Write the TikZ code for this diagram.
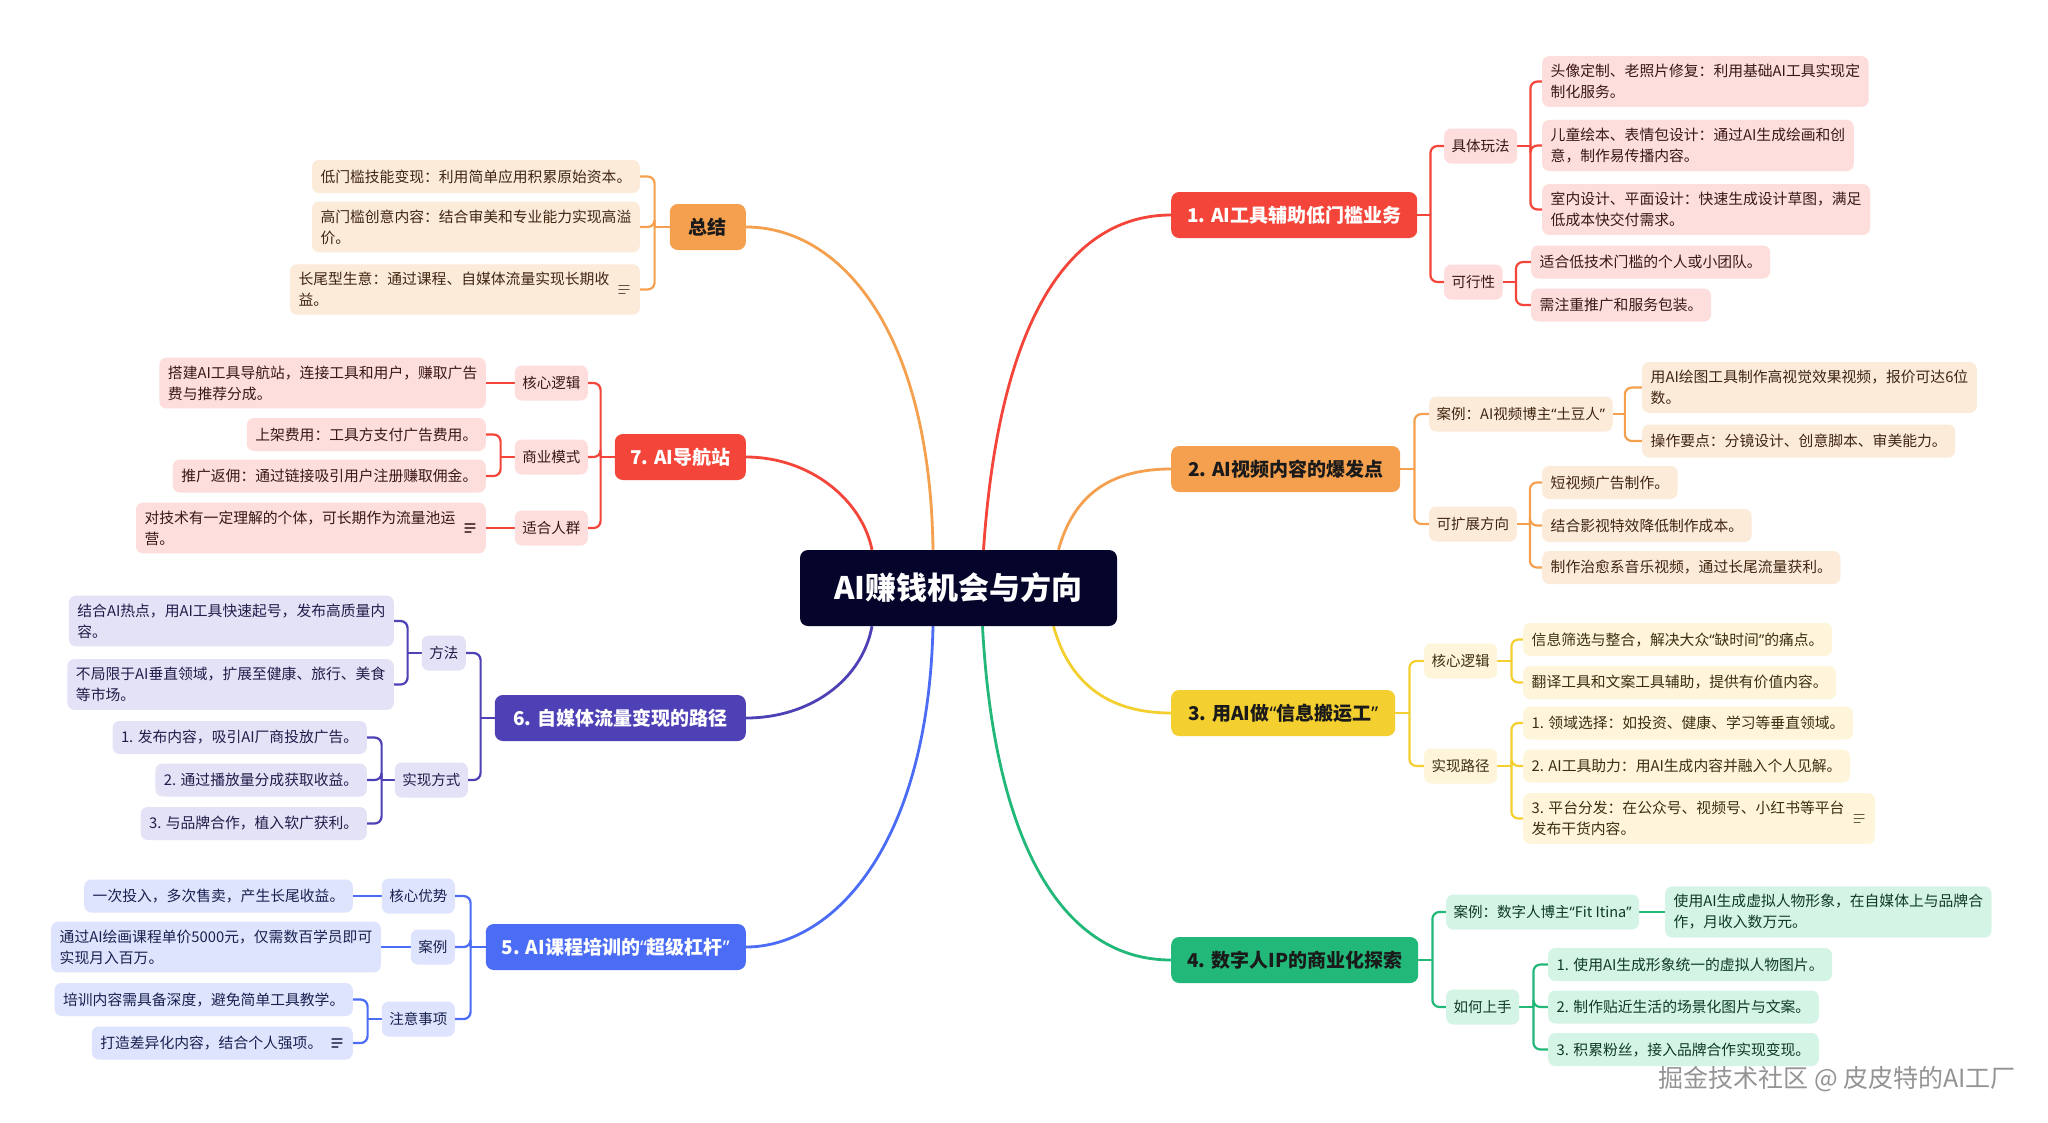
\documentclass[tikz,border=0pt]{standalone}
\usepackage{fontspec}
\setmainfont{Noto Sans CJK SC}
\newfontfamily\mmqf{Noto Sans}
\newcommand\mmlq{{\mmqf “}}
\newcommand\mmrq{{\mmqf ”}}
\newcommand\mmgap{\hbox to 22pt{}}
\usetikzlibrary{backgrounds}
\definecolor{ctrfill}{HTML}{05042A}
\definecolor{rM}{HTML}{F4453A}\definecolor{rL}{HTML}{FDDEDC}\definecolor{rT}{HTML}{3A1714}
\definecolor{oM}{HTML}{F4A04E}\definecolor{oL}{HTML}{FDEBDA}\definecolor{oT}{HTML}{3F2611}
\definecolor{yM}{HTML}{F3CF30}\definecolor{yL}{HTML}{FEF5DA}\definecolor{yT}{HTML}{3A3010}
\definecolor{gM}{HTML}{21B879}\definecolor{gL}{HTML}{D4F4E5}\definecolor{gT}{HTML}{0F3A28}
\definecolor{bM}{HTML}{4B6CF5}\definecolor{bL}{HTML}{DEE4FD}\definecolor{bT}{HTML}{18214F}
\definecolor{pM}{HTML}{4E41B6}\definecolor{pL}{HTML}{E3E2F6}\definecolor{pT}{HTML}{211C4A}
\definecolor{dk}{HTML}{1A1A1A}
\tikzset{
  mainbox/.style={rounded corners=8pt, minimum height=46pt, inner xsep=8pt, inner ysep=6pt,
    font=\fontsize{19}{24}\selectfont\bfseries},
  subbox/.style={rounded corners=7pt, minimum height=35pt, inner xsep=7.5pt, inner ysep=7pt,
    font=\fontsize{14.5}{21}\selectfont},
  leafbox/.style={rounded corners=7pt, minimum height=33pt, inner xsep=8.5pt, inner ysep=8pt,
    align=left, font=\fontsize{14.8}{21}\selectfont},
  rMain/.style={mainbox, fill=rM, text=white},
  oMain/.style={mainbox, fill=oM, text=dk},
  yMain/.style={mainbox, fill=yM, text=dk},
  gMain/.style={mainbox, fill=gM, text=dk},
  bMain/.style={mainbox, fill=bM, text=white},
  pMain/.style={mainbox, fill=pM, text=white},
  rSub/.style={subbox, fill=rL, text=rT}, rLeaf/.style={leafbox, fill=rL, text=rT},
  oSub/.style={subbox, fill=oL, text=oT}, oLeaf/.style={leafbox, fill=oL, text=oT},
  ySub/.style={subbox, fill=yL, text=yT}, yLeaf/.style={leafbox, fill=yL, text=yT},
  gSub/.style={subbox, fill=gL, text=gT}, gLeaf/.style={leafbox, fill=gL, text=gT},
  bSub/.style={subbox, fill=bL, text=bT}, bLeaf/.style={leafbox, fill=bL, text=bT},
  pSub/.style={subbox, fill=pL, text=pT}, pLeaf/.style={leafbox, fill=pL, text=pT},
  bigcurve/.style={line width=2.8pt},
  fork/.style={line width=2.2pt, rounded corners=7pt},
  rC/.style={fork, draw=rM}, oC/.style={fork, draw=oM}, yC/.style={fork, draw=yM},
  gC/.style={fork, draw=gM}, bC/.style={fork, draw=bM}, pC/.style={fork, draw=pM},
  iconline/.style={line width=1.1pt, line cap=round}
}
\newcommand\mmicon[2]{%
  \draw[iconline, #2!80] ([xshift=-21pt,yshift=4pt]#1.east) -- ++(10,0);
  \draw[iconline, #2!80] ([xshift=-21pt,yshift=0pt]#1.east) -- ++(10,0);
  \draw[iconline, #2!80] ([xshift=-21pt,yshift=-4pt]#1.east) -- ++(6,0);
}
\begin{document}
\begin{tikzpicture}[x=1pt,y=-1pt]
\useasboundingbox (0,0) rectangle (2048,1122);

% centre
\node[fill=ctrfill, text=white, rounded corners=8pt, minimum width=317pt, minimum height=76pt,
  font=\fontsize{31}{36}\selectfont\bfseries] (ctr) at (958.5,588) {AI赚钱机会与方向};

% ---------- right side ----------
\node[rMain, anchor=west, minimum width=246pt] (n1) at (1171,215) {1. AI工具辅助低门槛业务};
\node[rSub, anchor=west] (s1a) at (1444,146) {具体玩法};
\node[rSub, anchor=west] (s1b) at (1444,282) {可行性};
\node[rLeaf, anchor=west] (l1a) at (1542,81.5) {头像定制、老照片修复：利用基础AI工具实现定\\制化服务。};
\node[rLeaf, anchor=west] (l1b) at (1542,145.5) {儿童绘本、表情包设计：通过AI生成绘画和创\\意，制作易传播内容。};
\node[rLeaf, anchor=west] (l1c) at (1542,209.5) {室内设计、平面设计：快速生成设计草图，满足\\低成本快交付需求。};
\node[rLeaf, anchor=west] (l1d) at (1531,262) {适合低技术门槛的个人或小团队。};
\node[rLeaf, anchor=west] (l1e) at (1531,305) {需注重推广和服务包装。};

\node[oMain, anchor=west, minimum width=229pt] (n2) at (1171,469) {2. AI视频内容的爆发点};
\node[oSub, anchor=west] (s2a) at (1429,414) {案例：AI视频博主\mmlq 土豆人\mmrq};
\node[oSub, anchor=west] (s2b) at (1429,524) {可扩展方向};
\node[oLeaf, anchor=west] (l2a) at (1642,387.5) {用AI绘图工具制作高视觉效果视频，报价可达6位\\数。};
\node[oLeaf, anchor=west] (l2b) at (1642,441) {操作要点：分镜设计、创意脚本、审美能力。};
\node[oLeaf, anchor=west] (l2c) at (1542,482.5) {短视频广告制作。};
\node[oLeaf, anchor=west] (l2d) at (1542,525.5) {结合影视特效降低制作成本。};
\node[oLeaf, anchor=west] (l2e) at (1542,567.5) {制作治愈系音乐视频，通过长尾流量获利。};

\node[yMain, anchor=west, minimum width=224pt] (n3) at (1171,713) {3. 用AI做\mmlq 信息搬运工\mmrq};
\node[ySub, anchor=west] (s3a) at (1424,661) {核心逻辑};
\node[ySub, anchor=west] (s3b) at (1424,766) {实现路径};
\node[yLeaf, anchor=west] (l3a) at (1523,639.5) {信息筛选与整合，解决大众\mmlq 缺时间\mmrq 的痛点。};
\node[yLeaf, anchor=west] (l3b) at (1523,682.5) {翻译工具和文案工具辅助，提供有价值内容。};
\node[yLeaf, anchor=west] (l3c) at (1523,723) {1. 领域选择：如投资、健康、学习等垂直领域。};
\node[yLeaf, anchor=west] (l3d) at (1523,766) {2. AI工具助力：用AI生成内容并融入个人见解。};
\node[yLeaf, anchor=west] (l3e) at (1523,818.5) {3. 平台分发：在公众号、视频号、小红书等平台\mmgap\\发布干货内容。};

\node[gMain, anchor=west, minimum width=247pt] (n4) at (1171,960) {4. 数字人IP的商业化探索};
\node[gSub, anchor=west] (s4a) at (1446,912) {案例：数字人博主\mmlq Fit Itina\mmrq};
\node[gSub, anchor=west] (s4b) at (1446,1007) {如何上手};
\node[gLeaf, anchor=west] (l4a) at (1665,912) {使用AI生成虚拟人物形象，在自媒体上与品牌合\\作，月收入数万元。};
\node[gLeaf, anchor=west] (l4b) at (1548,964.5) {1. 使用AI生成形象统一的虚拟人物图片。};
\node[gLeaf, anchor=west] (l4c) at (1548,1007) {2. 制作贴近生活的场景化图片与文案。};
\node[gLeaf, anchor=west] (l4d) at (1548,1049.5) {3. 积累粉丝，接入品牌合作实现变现。};

% ---------- left side ----------
\node[oMain, anchor=east, minimum width=76pt] (nz) at (746,227) {总结};
\node[oLeaf, anchor=east] (z1) at (640,176.5) {低门槛技能变现：利用简单应用积累原始资本。};
\node[oLeaf, anchor=east] (z2) at (640,227) {高门槛创意内容：结合审美和专业能力实现高溢\\价。};
\node[oLeaf, anchor=east] (z3) at (640,289.5) {长尾型生意：通过课程、自媒体流量实现长期收\mmgap\\益。};

\node[rMain, anchor=east, minimum width=131pt] (n7) at (746,457) {7. AI导航站};
\node[rSub, anchor=east] (s7a) at (588,383) {核心逻辑};
\node[rSub, anchor=east] (s7b) at (588,457) {商业模式};
\node[rSub, anchor=east] (s7c) at (588,528) {适合人群};
\node[rLeaf, anchor=east] (l7a) at (486,383) {搭建AI工具导航站，连接工具和用户，赚取广告\\费与推荐分成。};
\node[rLeaf, anchor=east] (l7b) at (486,434.5) {上架费用：工具方支付广告费用。};
\node[rLeaf, anchor=east] (l7c) at (486,476) {推广返佣：通过链接吸引用户注册赚取佣金。};
\node[rLeaf, anchor=east] (l7d) at (486,528) {对技术有一定理解的个体，可长期作为流量池运\mmgap\\营。};

\node[pMain, anchor=east, minimum width=251pt] (n6) at (746,718) {6. 自媒体流量变现的路径};
\node[pSub, anchor=east] (s6a) at (466,653) {方法};
\node[pSub, anchor=east] (s6b) at (468,780) {实现方式};
\node[pLeaf, anchor=east] (l6a) at (394,621) {结合AI热点，用AI工具快速起号，发布高质量内\\容。};
\node[pLeaf, anchor=east] (l6b) at (394,684.5) {不局限于AI垂直领域，扩展至健康、旅行、美食\\等市场。};
\node[pLeaf, anchor=east] (l6c) at (367,737.5) {1. 发布内容，吸引AI厂商投放广告。};
\node[pLeaf, anchor=east] (l6d) at (367,780) {2. 通过播放量分成获取收益。};
\node[pLeaf, anchor=east] (l6e) at (367,823.5) {3. 与品牌合作，植入软广获利。};

\node[bMain, anchor=east, minimum width=260pt] (n5) at (746,947) {5. AI课程培训的\mmlq 超级杠杆\mmrq};
\node[bSub, anchor=east] (s5a) at (455,896) {核心优势};
\node[bSub, anchor=east] (s5b) at (455,947) {案例};
\node[bSub, anchor=east] (s5c) at (455,1019) {注意事项};
\node[bLeaf, anchor=east] (l5a) at (353,896) {一次投入，多次售卖，产生长尾收益。};
\node[bLeaf, anchor=east] (l5b) at (381,947) {通过AI绘画课程单价5000元，仅需数百学员即可\\实现月入百万。};
\node[bLeaf, anchor=east] (l5c) at (353,999.5) {培训内容需具备深度，避免简单工具教学。};
\node[bLeaf, anchor=east] (l5d) at (353,1043) {打造差异化内容，结合个人强项。\mmgap};

% icons
\mmicon{l3e}{yT}
\mmicon{z3}{oT}
\mmicon{l7d}{rT}
\mmicon{l5d}{bT}

% watermark
\node[anchor=west, text=black!42, font=\fontsize{25}{30}\selectfont] (wm) at (1655,1079) {掘金技术社区 @ 皮皮特的AI工厂};

\begin{scope}[on background layer]
\fill[white] (0,0) rectangle (2048,1122);
% main curves
\draw[bigcurve, draw=rM] ([xshift=25pt]ctr.north) .. controls +(17,-250) and +(-91,0) .. (n1.west);
\draw[bigcurve, draw=oM] ([xshift=100pt]ctr.north) .. controls +(15,-54) and +(-62,0) .. (n2.west);
\draw[bigcurve, draw=yM] ([xshift=95pt]ctr.south) .. controls +(15,54) and +(-66,0) .. (n3.west);
\draw[bigcurve, draw=gM] ([xshift=24pt]ctr.south) .. controls +(12,224) and +(-105,0) .. (n4.west);
\draw[bigcurve, draw=oM] ([xshift=-25.5pt]ctr.north) .. controls +(-3,-220) and +(94,0) .. (nz.east);
\draw[bigcurve, draw=rM] ([xshift=-86.5pt]ctr.north) .. controls +(-10,-50) and +(64,0) .. (n7.east);
\draw[bigcurve, draw=pM] ([xshift=-86.5pt]ctr.south) .. controls +(-10,54) and +(64,0) .. (n6.east);
\draw[bigcurve, draw=bM] ([xshift=-25.5pt]ctr.south) .. controls +(-5,224) and +(84,0) .. (n5.east);

% branch 1
\draw[rC] (n1.east) -- ++(13,0) coordinate (j1);
\draw[rC] (j1) |- (s1a.west); \draw[rC] (j1) |- (s1b.west);
\draw[rC] (s1a.east) -- ++(13,0) coordinate (j1a);
\draw[rC] (j1a) |- (l1a.west); \draw[rC] (j1a) |- (l1b.west); \draw[rC] (j1a) |- (l1c.west);
\draw[rC] (s1b.east) -- ++(13,0) coordinate (j1b);
\draw[rC] (j1b) |- (l1d.west); \draw[rC] (j1b) |- (l1e.west);
% branch 2
\draw[oC] (n2.east) -- ++(14,0) coordinate (j2);
\draw[oC] (j2) |- (s2a.west); \draw[oC] (j2) |- (s2b.west);
\draw[oC] (s2a.east) -- ++(12,0) coordinate (j2a);
\draw[oC] (j2a) |- (l2a.west); \draw[oC] (j2a) |- (l2b.west);
\draw[oC] (s2b.east) -- ++(13,0) coordinate (j2b);
\draw[oC] (j2b) |- (l2c.west); \draw[oC] (j2b) |- (l2d.west); \draw[oC] (j2b) |- (l2e.west);
% branch 3
\draw[yC] (n3.east) -- ++(14,0) coordinate (j3);
\draw[yC] (j3) |- (s3a.west); \draw[yC] (j3) |- (s3b.west);
\draw[yC] (s3a.east) -- ++(14,0) coordinate (j3a);
\draw[yC] (j3a) |- (l3a.west); \draw[yC] (j3a) |- (l3b.west);
\draw[yC] (s3b.east) -- ++(14,0) coordinate (j3b);
\draw[yC] (j3b) |- (l3c.west); \draw[yC] (j3b) |- (l3d.west); \draw[yC] (j3b) |- (l3e.west);
% branch 4
\draw[gC] (n4.east) -- ++(14,0) coordinate (j4);
\draw[gC] (j4) |- (s4a.west); \draw[gC] (j4) |- (s4b.west);
\draw[gC] (s4a.east) -- (l4a.west);
\draw[gC] (s4b.east) -- ++(14,0) coordinate (j4b);
\draw[gC] (j4b) |- (l4b.west); \draw[gC] (j4b) |- (l4c.west); \draw[gC] (j4b) |- (l4d.west);
% summary
\draw[oC] (nz.west) -- ++(-15,0) coordinate (jz);
\draw[oC] (jz) |- (z1.east); \draw[oC] (jz) |- (z2.east); \draw[oC] (jz) |- (z3.east);
% branch 7
\draw[rC] (n7.west) -- ++(-14,0) coordinate (j7);
\draw[rC] (j7) |- (s7a.east); \draw[rC] (j7) |- (s7b.east); \draw[rC] (j7) |- (s7c.east);
\draw[rC] (s7a.west) -- (l7a.east);
\draw[rC] (s7b.west) -- ++(-14,0) coordinate (j7b);
\draw[rC] (j7b) |- (l7b.east); \draw[rC] (j7b) |- (l7c.east);
\draw[rC] (s7c.west) -- (l7d.east);
% branch 6
\draw[pC] (n6.west) -- ++(-14,0) coordinate (j6);
\draw[pC] (j6) |- (s6a.east); \draw[pC] (j6) |- (s6b.east);
\draw[pC] (s6a.west) -- ++(-14,0) coordinate (j6a);
\draw[pC] (j6a) |- (l6a.east); \draw[pC] (j6a) |- (l6b.east);
\draw[pC] (s6b.west) -- ++(-13,0) coordinate (j6b);
\draw[pC] (j6b) |- (l6c.east); \draw[pC] (j6b) |- (l6d.east); \draw[pC] (j6b) |- (l6e.east);
% branch 5
\draw[bC] (n5.west) -- ++(-15,0) coordinate (j5);
\draw[bC] (j5) |- (s5a.east); \draw[bC] (j5) |- (s5b.east); \draw[bC] (j5) |- (s5c.east);
\draw[bC] (s5a.west) -- (l5a.east);
\draw[bC] (s5b.west) -- (l5b.east);
\draw[bC] (s5c.west) -- ++(-14,0) coordinate (j5c);
\draw[bC] (j5c) |- (l5c.east); \draw[bC] (j5c) |- (l5d.east);
\end{scope}
\end{tikzpicture}
\end{document}
